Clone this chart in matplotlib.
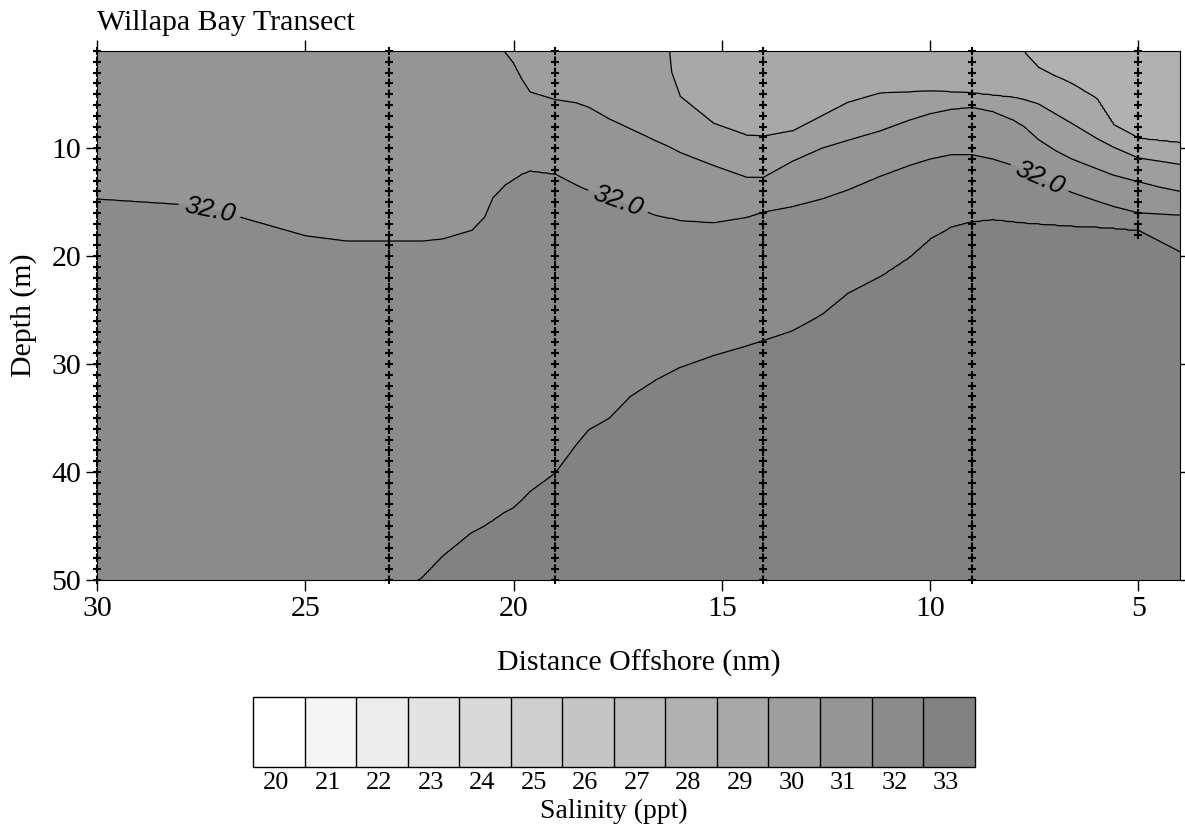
import numpy as np
import matplotlib.pyplot as plt

plt.rcParams['font.family'] = ['Liberation Serif', 'DejaVu Serif']

nan = np.nan

# distance offshore (nm) of the columns where the isohalines were read
dist = [30, 28, 27, 26, 25, 24, 23, 22.2, 21.7, 21.0, 20.7, 20.5, 20.2, 20.0,
        19.8, 19.6, 19.0, 18.5, 18.2, 17.7, 17.2, 16.6, 16.25, 16.2, 16.0,
        15.2, 14.4, 14.0, 13.3, 12.6, 12.0, 11.2, 10.5, 10.0, 9.5, 9.0, 8.5,
        8.0, 7.74, 7.4, 7.0, 6.6, 6.0, 5.6, 5.0, 4.5, 4.0]

# depth (m) of each isohaline, nan = outside the section
iso29 = [nan] * 38 + [1.1, 2.5, 3.3, 4.0, 5.4, 7.8, 9.1, 9.3, 9.5]
iso30 = [nan] * 22 + [1.1, 3.0, 5.2, 7.7, 8.8, 8.9, 8.4, 7.0, 5.8, 4.9, 4.8,
                      4.7, 4.8, 4.9, 5.1, 5.3, 5.5, 5.9, 6.8, 7.7, 9.1, 9.9,
                      10.9, 11.2, 11.5]
iso31 = [nan] * 12 + [1.1, 2.1, 3.6, 4.8, 5.5, 5.8, 6.2, 7.3, 8.2, 9.3, 9.9,
                      10.0, 10.4, 11.6, 12.7, 12.7, 11.2, 10.0, 9.3, 8.4, 7.4,
                      6.8, 6.4, 6.2, 6.6, 7.4, 8.0, 9.2, 10.2, 11.0, 11.9,
                      12.5, 13.1, 13.6, 14.0]
iso32 = [14.7, 15.2, 15.9, 17.0, 18.1, 18.6, 18.6, 18.6, 18.4, 17.6, 16.4,
         14.6, 13.4, 12.9, 12.4, 12.1, 12.4, 13.4, 13.9, 14.6, 15.3, 16.2,
         16.5, 16.5, 16.7, 16.9, 16.4, 15.9, 15.4, 14.7, 13.9, 12.6, 11.6,
         11.0, 10.6, 10.6, 11.0, 11.6, 12.1, 12.7, 13.4, 14.1, 14.9, 15.4,
         16.0, 16.1, 16.2]
iso33 = [nan] * 7 + [49.8, 47.8, 45.6, 45.0, 44.5, 43.7, 43.3, 42.6, 41.8,
                     40.1, 37.5, 36.1, 35.0, 33.0, 31.5, 30.8, 30.7, 30.3,
                     29.2, 28.3, 27.8, 26.9, 25.4, 23.5, 21.9, 20.1, 18.4,
                     17.3, 16.8, 16.6, 16.8, 16.9, 17.0, 17.1, 17.2, 17.3,
                     17.4, 17.6, 18.6, 19.6]
iso_levels = [29, 30, 31, 32, 33]

# CTD stations
st_dist = [30, 23, 19, 14, 9, 5]
st_bottom = [50, 50, 50, 50, 50, 18]

sal_ticks = list(range(20, 34))
greys = ['#ffffff', '#f5f5f5', '#ececec', '#e2e2e2', '#d8d8d8', '#cfcfcf',
         '#c5c5c5', '#bbbbbb', '#b1b1b1', '#a8a8a8', '#9e9e9e', '#959595',
         '#8b8b8b', '#828282']

# salinity grid built from the isohalines
isos = [iso29, iso30, iso31, iso32, iso33]
xs = np.array(dist)[::-1]
x_grid = np.linspace(4, 30, 521)
depth_grid = np.linspace(0, 51, 511)
iso_depth = []
for lev, arr in zip(iso_levels, isos):
    a = np.array(arr, dtype=float)
    a[np.isnan(a)] = lev - 33 if lev < 33 else 52
    iso_depth.append(np.interp(x_grid, xs, a[::-1]))
S = np.zeros((len(depth_grid), len(x_grid)))
for j in range(len(x_grid)):
    d = [-6] + [row[j] for row in iso_depth] + [60]
    S[:, j] = np.interp(depth_grid, d, [28] + iso_levels + [34])

fs = 21.5
fig = plt.figure(figsize=(11.85, 8.4), dpi=100)
ax = fig.add_axes([0.0819, 0.3095, 0.9139, 0.6298])

cf = ax.contourf(x_grid, depth_grid, S, levels=np.arange(20, 35), colors=greys)
ax.contour(x_grid, depth_grid, S, levels=[29, 30, 31, 33], colors='k',
           linewidths=0.9)
cs32 = ax.contour(x_grid, depth_grid, S, levels=[32], colors='k',
                  linewidths=0.9)
with plt.rc_context({'font.family': 'Liberation Sans', 'font.style': 'italic'}):
    ax.clabel(cs32, fmt='%.1f', inline=True, inline_spacing=6,
              fontsize=19, manual=[(27.3, 15.8), (17.5, 15.0), (7.4, 13.0)])

for x, b in zip(st_dist, st_bottom):
    dd = np.arange(1, b + 1)
    ax.plot([x] * len(dd), dd, ls=':', color='k', lw=1.5, marker='+',
            ms=6, mew=1.5, clip_on=False, zorder=5)

ax.set_xlim(30, 4)
ax.set_ylim(50, 1)
ax.set_xticks([30, 25, 20, 15, 10, 5])
ax.set_yticks([10, 20, 30, 40, 50])
ax.tick_params(direction='out', length=8, width=1, top=True, right=True,
               labeltop=False, labelright=False, labelsize=fs)
ax.set_xlabel('Distance Offshore (nm)', fontsize=fs, labelpad=20)
ax.set_ylabel('Depth (m)', fontsize=fs, labelpad=10)
ax.set_title('Willapa Bay Transect', loc='left', fontsize=fs, pad=15)

cax = fig.add_axes([0.2135, 0.087, 0.609, 0.083])
cb = fig.colorbar(cf, cax=cax, orientation='horizontal', drawedges=True)
cb.set_ticks(np.array(sal_ticks) + 0.45, labels=[str(v) for v in sal_ticks])
cb.ax.tick_params(length=0, labelsize=19, pad=4)
cb.dividers.set_color('k')
cb.dividers.set_linewidth(1)
cb.outline.set_linewidth(1)
cb.set_label('Salinity (ppt)', fontsize=20, labelpad=3)

fig.savefig('out.png', dpi=100)
